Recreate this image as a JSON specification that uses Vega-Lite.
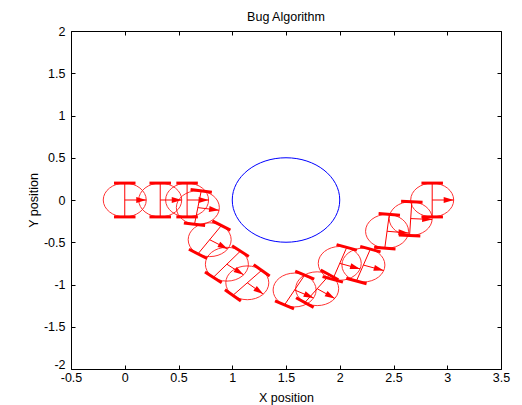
{
  "$schema": "https://vega.github.io/schema/vega-lite/v6.json",
  "width": 430,
  "height": 338,
  "autosize": "none",
  "padding": {"left": 71, "top": 31, "right": 21, "bottom": 36},
  "background": "#ffffff",
  "title": {"text": "Bug Algorithm", "font": "Liberation Sans", "fontSize": 12.5, "fontWeight": "normal", "color": "#000000", "anchor": "middle", "offset": 2},
  "config": {
    "view": {"stroke": null},
    "axis": {"grid": false, "domainColor": "#000000", "tickColor": "#000000", "labelColor": "#000000", "labelFont": "Liberation Sans", "labelFontSize": 12.5, "labelFlush": false, "labelOverlap": false, "titleFont": "Liberation Sans", "titleFontSize": 12.5, "titleFontWeight": "normal", "titleColor": "#000000", "tickSize": -4, "domainWidth": 1, "tickWidth": 1}
  },
  "datasets": {
    "obstacle": [{"x": 1.5, "y": 0}],
    "robots": [
      {"robot": 1, "x": 0, "y": 0, "theta": 0, "tipX": 0.2, "tipY": 0},
      {"robot": 2, "x": 0.33, "y": 0, "theta": 0, "tipX": 0.53, "tipY": 0},
      {"robot": 3, "x": 0.58, "y": 0, "theta": 0, "tipX": 0.78, "tipY": 0},
      {"robot": 4, "x": 0.68, "y": -0.09, "theta": -9, "tipX": 0.8775, "tipY": -0.1213},
      {"robot": 5, "x": 0.79, "y": -0.47, "theta": -33, "tipX": 0.9577, "tipY": -0.5789},
      {"robot": 6, "x": 0.95, "y": -0.76, "theta": -39, "tipX": 1.1054, "tipY": -0.8859},
      {"robot": 7, "x": 1.14, "y": -0.98, "theta": -42, "tipX": 1.2886, "tipY": -1.1138},
      {"robot": 8, "x": 1.58, "y": -1.065, "theta": -28, "tipX": 1.7566, "tipY": -1.1589},
      {"robot": 9, "x": 1.79, "y": -1.05, "theta": -35, "tipX": 1.9538, "tipY": -1.1647},
      {"robot": 10, "x": 2.0, "y": -0.75, "theta": -19, "tipX": 2.1891, "tipY": -0.8151},
      {"robot": 11, "x": 2.22, "y": -0.77, "theta": -19, "tipX": 2.4091, "tipY": -0.8351},
      {"robot": 12, "x": 2.44, "y": -0.37, "theta": -6, "tipX": 2.6389, "tipY": -0.3909},
      {"robot": 13, "x": 2.66, "y": -0.22, "theta": -3, "tipX": 2.8597, "tipY": -0.2305},
      {"robot": 14, "x": 2.86, "y": 0, "theta": 0, "tipX": 3.06, "tipY": 0}
    ],
    "wheels": [
      {"robot": 1, "x": -0.1, "y": 0.2, "x2": 0.1, "y2": 0.2},
      {"robot": 1, "x": -0.1, "y": -0.2, "x2": 0.1, "y2": -0.2},
      {"robot": 2, "x": 0.23, "y": 0.2, "x2": 0.43, "y2": 0.2},
      {"robot": 2, "x": 0.23, "y": -0.2, "x2": 0.43, "y2": -0.2},
      {"robot": 3, "x": 0.48, "y": 0.2, "x2": 0.68, "y2": 0.2},
      {"robot": 3, "x": 0.48, "y": -0.2, "x2": 0.68, "y2": -0.2},
      {"robot": 4, "x": 0.6125, "y": 0.1231, "x2": 0.8101, "y2": 0.0919},
      {"robot": 4, "x": 0.5499, "y": -0.2719, "x2": 0.7475, "y2": -0.3031},
      {"robot": 5, "x": 0.815, "y": -0.2478, "x2": 0.9828, "y2": -0.3568},
      {"robot": 5, "x": 0.5972, "y": -0.5832, "x2": 0.765, "y2": -0.6922},
      {"robot": 6, "x": 0.9982, "y": -0.5417, "x2": 1.1536, "y2": -0.6675},
      {"robot": 6, "x": 0.7464, "y": -0.8525, "x2": 0.9018, "y2": -0.9783},
      {"robot": 7, "x": 1.1995, "y": -0.7645, "x2": 1.3481, "y2": -0.8983},
      {"robot": 7, "x": 0.9319, "y": -1.0617, "x2": 1.0805, "y2": -1.1955},
      {"robot": 8, "x": 1.5856, "y": -0.8415, "x2": 1.7622, "y2": -0.9353},
      {"robot": 8, "x": 1.3978, "y": -1.1947, "x2": 1.5744, "y2": -1.2885},
      {"robot": 9, "x": 1.8228, "y": -0.8288, "x2": 1.9866, "y2": -0.9436},
      {"robot": 9, "x": 1.5934, "y": -1.1564, "x2": 1.7572, "y2": -1.2712},
      {"robot": 10, "x": 1.9705, "y": -0.5283, "x2": 2.1597, "y2": -0.5935},
      {"robot": 10, "x": 1.8403, "y": -0.9065, "x2": 2.0295, "y2": -0.9717},
      {"robot": 11, "x": 2.1905, "y": -0.5483, "x2": 2.3797, "y2": -0.6135},
      {"robot": 11, "x": 2.0603, "y": -0.9265, "x2": 2.2495, "y2": -0.9917},
      {"robot": 12, "x": 2.3614, "y": -0.1606, "x2": 2.5604, "y2": -0.1816},
      {"robot": 12, "x": 2.3196, "y": -0.5584, "x2": 2.5186, "y2": -0.5794},
      {"robot": 13, "x": 2.5706, "y": -0.0151, "x2": 2.7704, "y2": -0.0255},
      {"robot": 13, "x": 2.5496, "y": -0.4145, "x2": 2.7494, "y2": -0.4249},
      {"robot": 14, "x": 2.76, "y": 0.2, "x2": 2.96, "y2": 0.2},
      {"robot": 14, "x": 2.76, "y": -0.2, "x2": 2.96, "y2": -0.2}
    ],
    "lines": [
      {"robot": 1, "part": "axle", "x": 0, "y": 0.2, "x2": 0, "y2": -0.2},
      {"robot": 1, "part": "shaft", "x": 0, "y": 0, "x2": 0.2, "y2": 0},
      {"robot": 2, "part": "axle", "x": 0.33, "y": 0.2, "x2": 0.33, "y2": -0.2},
      {"robot": 2, "part": "shaft", "x": 0.33, "y": 0, "x2": 0.53, "y2": 0},
      {"robot": 3, "part": "axle", "x": 0.58, "y": 0.2, "x2": 0.58, "y2": -0.2},
      {"robot": 3, "part": "shaft", "x": 0.58, "y": 0, "x2": 0.78, "y2": 0},
      {"robot": 4, "part": "axle", "x": 0.7113, "y": 0.1075, "x2": 0.6487, "y2": -0.2875},
      {"robot": 4, "part": "shaft", "x": 0.68, "y": -0.09, "x2": 0.8775, "y2": -0.1213},
      {"robot": 5, "part": "axle", "x": 0.8989, "y": -0.3023, "x2": 0.6811, "y2": -0.6377},
      {"robot": 5, "part": "shaft", "x": 0.79, "y": -0.47, "x2": 0.9577, "y2": -0.5789},
      {"robot": 6, "part": "axle", "x": 1.0759, "y": -0.6046, "x2": 0.8241, "y2": -0.9154},
      {"robot": 6, "part": "shaft", "x": 0.95, "y": -0.76, "x2": 1.1054, "y2": -0.8859},
      {"robot": 7, "part": "axle", "x": 1.2738, "y": -0.8314, "x2": 1.0062, "y2": -1.1286},
      {"robot": 7, "part": "shaft", "x": 1.14, "y": -0.98, "x2": 1.2886, "y2": -1.1138},
      {"robot": 8, "part": "axle", "x": 1.6739, "y": -0.8884, "x2": 1.4861, "y2": -1.2416},
      {"robot": 8, "part": "shaft", "x": 1.58, "y": -1.065, "x2": 1.7566, "y2": -1.1589},
      {"robot": 9, "part": "axle", "x": 1.9047, "y": -0.8862, "x2": 1.6753, "y2": -1.2138},
      {"robot": 9, "part": "shaft", "x": 1.79, "y": -1.05, "x2": 1.9538, "y2": -1.1647},
      {"robot": 10, "part": "axle", "x": 2.0651, "y": -0.5609, "x2": 1.9349, "y2": -0.9391},
      {"robot": 10, "part": "shaft", "x": 2.0, "y": -0.75, "x2": 2.1891, "y2": -0.8151},
      {"robot": 11, "part": "axle", "x": 2.2851, "y": -0.5809, "x2": 2.1549, "y2": -0.9591},
      {"robot": 11, "part": "shaft", "x": 2.22, "y": -0.77, "x2": 2.4091, "y2": -0.8351},
      {"robot": 12, "part": "axle", "x": 2.4609, "y": -0.1711, "x2": 2.4191, "y2": -0.5689},
      {"robot": 12, "part": "shaft", "x": 2.44, "y": -0.37, "x2": 2.6389, "y2": -0.3909},
      {"robot": 13, "part": "axle", "x": 2.6705, "y": -0.0203, "x2": 2.6495, "y2": -0.4197},
      {"robot": 13, "part": "shaft", "x": 2.66, "y": -0.22, "x2": 2.8597, "y2": -0.2305},
      {"robot": 14, "part": "axle", "x": 2.86, "y": 0.2, "x2": 2.86, "y2": -0.2},
      {"robot": 14, "part": "shaft", "x": 2.86, "y": 0, "x2": 3.06, "y2": 0}
    ]
  },
  "resolve": {"axis": {"x": "independent", "y": "independent"}},
  "layer": [
    {
      "data": {"name": "obstacle"},
      "mark": {"type": "point", "shape": "M -1 0 A 1 0.786 0 1 1 1 0 A 1 0.786 0 1 1 -1 0 Z", "size": 11556, "filled": false, "color": "#0000ff", "strokeWidth": 1, "opacity": 1},
      "encoding": {
        "x": {"field": "x", "type": "quantitative", "scale": {"domain": [-0.5, 3.5], "nice": false, "zero": false},
              "axis": {"orient": "bottom", "values": [-0.5, 0, 0.5, 1, 1.5, 2, 2.5, 3, 3.5], "labelExpr": "toString(datum.value)", "labelPadding": 6.5, "title": "X position", "titleX": 215, "titleY": 28, "titleBaseline": "middle", "titleAlign": "center"}},
        "y": {"field": "y", "type": "quantitative", "scale": {"domain": [-2, 2], "nice": false, "zero": false},
              "axis": {"orient": "left", "values": [-2, -1.5, -1, -0.5, 0, 0.5, 1, 1.5, 2], "labelExpr": "toString(datum.value)", "labelPadding": 10, "labelOffset": {"condition": {"test": "datum.value == -2", "value": -5}, "value": 0}, "title": "Y position", "titleX": -38, "titleY": 169, "titleAngle": 270, "titleBaseline": "middle", "titleAlign": "center"}}
      }
    },
    {
      "data": {"name": "lines"},
      "mark": {"type": "rule", "color": "#ff0000", "strokeWidth": 1},
      "encoding": {
        "x": {"field": "x", "type": "quantitative", "axis": {"orient": "top", "values": [-0.5, 0, 0.5, 1, 1.5, 2, 2.5, 3, 3.5], "labels": false, "title": null}},
        "y": {"field": "y", "type": "quantitative", "axis": {"orient": "right", "values": [-2, -1.5, -1, -0.5, 0, 0.5, 1, 1.5, 2], "labels": false, "title": null}},
        "x2": {"field": "x2"},
        "y2": {"field": "y2"}
      }
    },
    {
      "data": {"name": "wheels"},
      "mark": {"type": "rule", "color": "#ff0000", "strokeWidth": 3},
      "encoding": {
        "x": {"field": "x", "type": "quantitative", "axis": null},
        "y": {"field": "y", "type": "quantitative", "axis": null},
        "x2": {"field": "x2"},
        "y2": {"field": "y2"}
      }
    },
    {
      "data": {"name": "robots"},
      "mark": {"type": "point", "shape": "M -1 0 A 1 0.786 0 1 1 1 0 A 1 0.786 0 1 1 -1 0 Z", "size": 1849, "filled": false, "color": "#ff0000", "strokeWidth": 1, "opacity": 0.8},
      "encoding": {
        "x": {"field": "x", "type": "quantitative", "axis": null},
        "y": {"field": "y", "type": "quantitative", "axis": null}
      }
    },
    {
      "data": {"name": "robots"},
      "mark": {"type": "point", "shape": "M 0 0 L -2 -0.6 L -2 0.6 Z", "size": 100, "filled": true, "color": "#ff0000", "opacity": 1},
      "encoding": {
        "x": {"field": "tipX", "type": "quantitative", "axis": null},
        "y": {"field": "tipY", "type": "quantitative", "axis": null},
        "angle": {"field": "theta", "type": "quantitative", "scale": {"domain": [-45, 45], "range": [37.6, -37.6]}, "legend": null}
      }
    }
  ]
}
